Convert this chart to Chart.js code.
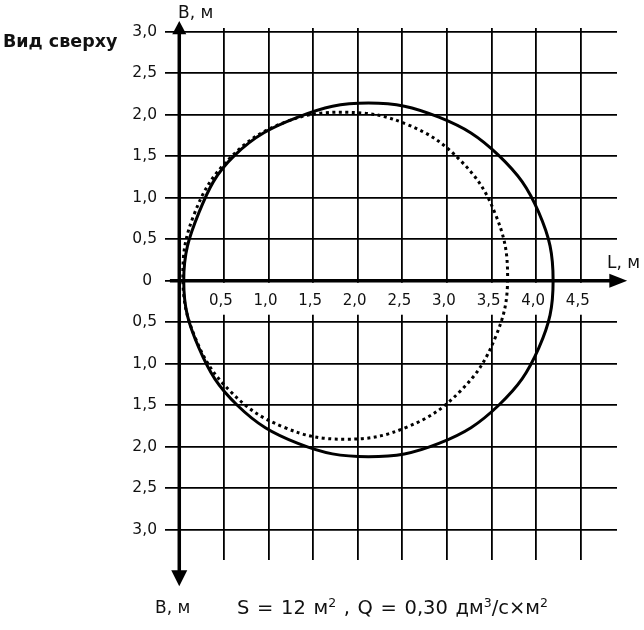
<!DOCTYPE html>
<html>
<head>
<meta charset="utf-8">
<script src="https://cdn.jsdelivr.net/npm/chart.js@4/dist/chart.umd.min.js"></script>
<style>
  html, body { margin: 0; padding: 0; background: #fff; }
  #wrap { width: 644px; height: 630px; position: relative; }
</style>
</head>
<body>
<div id="wrap"><canvas id="chart"></canvas></div>
<script>
// ─── Данные графика ───
const xTicks = [0.5, 1.0, 1.5, 2.0, 2.5, 3.0, 3.5, 4.0, 4.5];
const yTicks = [-3.0, -2.5, -2.0, -1.5, -1.0, -0.5, 0, 0.5, 1.0, 1.5, 2.0, 2.5, 3.0];

// Сплошной контур (по часовой стрелке от верхней точки, замкнутый)
const solidX = [2.12, 2.91, 3.58, 4.03, 4.19, 4.03, 3.58, 2.91, 2.12, 1.33, 0.65, 0.22, 0.05, 0.22, 0.62, 1.33, 2.12];
const solidY = [2.14, 1.97, 1.51, 0.82, 0.00, -0.81, -1.50, -1.96, -2.12, -1.96, -1.50, -0.81, 0.00, 0.82, 1.51, 1.97, 2.14];

// Пунктирный контур
const dottedX = [1.86, 2.56, 3.15, 3.54, 3.68, 3.54, 3.15, 2.56, 1.86, 1.16, 0.57, 0.18, 0.04, 0.17, 0.56, 1.16, 1.86];
const dottedY = [2.03, 1.88, 1.45, 0.81, 0.05, -0.69, -1.33, -1.76, -1.91, -1.76, -1.33, -0.69, 0.05, 0.81, 1.47, 1.90, 2.03];

const FONT = "'DejaVu Sans', Verdana, sans-serif";
const HIDDEN = 'rgba(0,0,0,0)';

// замкнутая кривая: добавляем по соседу с каждой стороны, чтобы стык был гладким
function loopPoints(xs, ys) {
    const pts = xs.map((v, i) => ({ x: v, y: ys[i] }));
    const n = pts.length;
    return [pts[n - 2]].concat(pts, [pts[1]]);
}

function loopSegment(len) {
    return {
        borderColor: c => (c.p0DataIndex === 0 || c.p1DataIndex === len - 1) ? HIDDEN : '#000'
    };
}

function fmt(v) {
    if (v === 0) return '0 ';
    return Math.abs(v).toFixed(1).replace('.', ',');
}

// ─── Оси со стрелками и подписи ───
const decor = {
    id: 'decor',
    afterDraw(chart) {
        const { ctx } = chart;
        const sx = chart.scales.x, sy = chart.scales.y;
        const X = v => sx.getPixelForValue(v);
        const Y = v => sy.getPixelForValue(v);
        const x0 = X(0), y0 = Y(0);

        ctx.save();
        ctx.strokeStyle = '#000';
        ctx.fillStyle = '#000';
        ctx.lineWidth = 3.5;

        // вертикальная ось
        ctx.beginPath();
        ctx.moveTo(x0, Y(2.98));
        ctx.lineTo(x0, Y(-3.50));
        ctx.stroke();
        ctx.beginPath();
        ctx.moveTo(x0, Y(3.13));
        ctx.lineTo(x0 - 7, Y(2.97));
        ctx.lineTo(x0 + 7, Y(2.97));
        ctx.closePath();
        ctx.fill();
        ctx.beginPath();
        ctx.moveTo(x0, Y(-3.68));
        ctx.lineTo(x0 - 8, Y(-3.49));
        ctx.lineTo(x0 + 8, Y(-3.49));
        ctx.closePath();
        ctx.fill();

        // горизонтальная ось
        ctx.beginPath();
        ctx.moveTo(X(-0.105), y0);
        ctx.lineTo(X(4.83), y0);
        ctx.stroke();
        ctx.beginPath();
        ctx.moveTo(X(5.02), y0);
        ctx.lineTo(X(4.82), y0 - 7);
        ctx.lineTo(X(4.82), y0 + 7);
        ctx.closePath();
        ctx.fill();

        // подписи
        ctx.fillStyle = '#111';
        ctx.textBaseline = 'alphabetic';
        ctx.textAlign = 'left';
        ctx.font = 'bold 17.5px ' + FONT;
        ctx.fillText('Вид сверху', 3, 47);

        ctx.font = '17px ' + FONT;
        ctx.fillText('В, м', 178, 18);
        ctx.fillText('L, м', 607, 268);
        ctx.fillText('В, м', 155, 613);

        drawRich(ctx, [
            ['S = 12 м', false], ['2', true], [' , Q = 0,30 дм', false],
            ['3', true], ['/с×м', false], ['2', true]
        ], 237, 548, 614);

        ctx.restore();
    }
};

// текст с верхними индексами; пробелы растягиваются до нужной ширины
function drawRich(ctx, parts, x1, x2, base) {
    const fontOf = sup => (sup ? '12.5px ' : '19.5px ') + FONT;
    let natural = 0, spaces = 0;
    parts.forEach(([txt, sup]) => {
        ctx.font = fontOf(sup);
        natural += ctx.measureText(txt).width;
        spaces += txt.split(' ').length - 1;
    });
    const extra = Math.max(0, (x2 - x1 - natural) / spaces);
    let x = x1;
    parts.forEach(([txt, sup]) => {
        ctx.font = fontOf(sup);
        for (const ch of txt) {
            ctx.fillText(ch, x, sup ? base - 7.5 : base);
            x += ctx.measureText(ch).width + (ch === ' ' ? extra : 0);
        }
    });
}

const solidData = loopPoints(solidX, solidY);
const dottedData = loopPoints(dottedX, dottedY);

new Chart(document.getElementById('chart'), {
    type: 'scatter',
    data: {
        datasets: [{
            label: 'сплошная',
            data: solidData,
            showLine: true,
            borderColor: '#000',
            borderWidth: 3,
            pointRadius: 0,
            tension: 0.4,
            fill: false,
            segment: loopSegment(solidData.length)
        }, {
            label: 'пунктир',
            data: dottedData,
            showLine: true,
            borderColor: '#000',
            borderWidth: 3,
            borderDash: [3, 3.5],
            pointRadius: 0,
            tension: 0.4,
            fill: false,
            segment: loopSegment(dottedData.length)
        }]
    },
    options: {
        responsive: true,
        maintainAspectRatio: false,
        animation: false,
        layout: { padding: { top: 28, right: 27, bottom: 70, left: 0 } },
        plugins: {
            legend: { display: false },
            tooltip: { enabled: false }
        },
        scales: {
            x: {
                type: 'linear',
                position: { y: 0 },
                min: -0.16,
                max: 4.906,
                afterBuildTicks: s => { s.ticks = xTicks.map(v => ({ value: v })); },
                grid: { color: '#000', lineWidth: 1.8, drawTicks: false },
                border: { display: false },
                ticks: {
                    color: '#111',
                    font: { family: FONT, size: 15 },
                    padding: 11,
                    labelOffset: -3,
                    autoSkip: false,
                    maxRotation: 0,
                    showLabelBackdrop: true,
                    backdropColor: '#fff',
                    backdropPadding: { top: 9, bottom: 5, left: 2, right: 2 },
                    callback: v => fmt(v)
                }
            },
            y: {
                type: 'linear',
                position: 'left',
                min: -3.365,
                max: 3.045,
                afterBuildTicks: s => { s.ticks = yTicks.map(v => ({ value: v })); },
                afterFit: s => { s.width = 165; },
                grid: { color: '#000', lineWidth: 1.8, drawTicks: false },
                border: { display: false },
                ticks: {
                    color: '#111',
                    font: { family: FONT, size: 15.5 },
                    padding: 8,
                    autoSkip: false,
                    callback: v => fmt(v)
                }
            }
        }
    },
    plugins: [decor]
});
</script>
</body>
</html>
